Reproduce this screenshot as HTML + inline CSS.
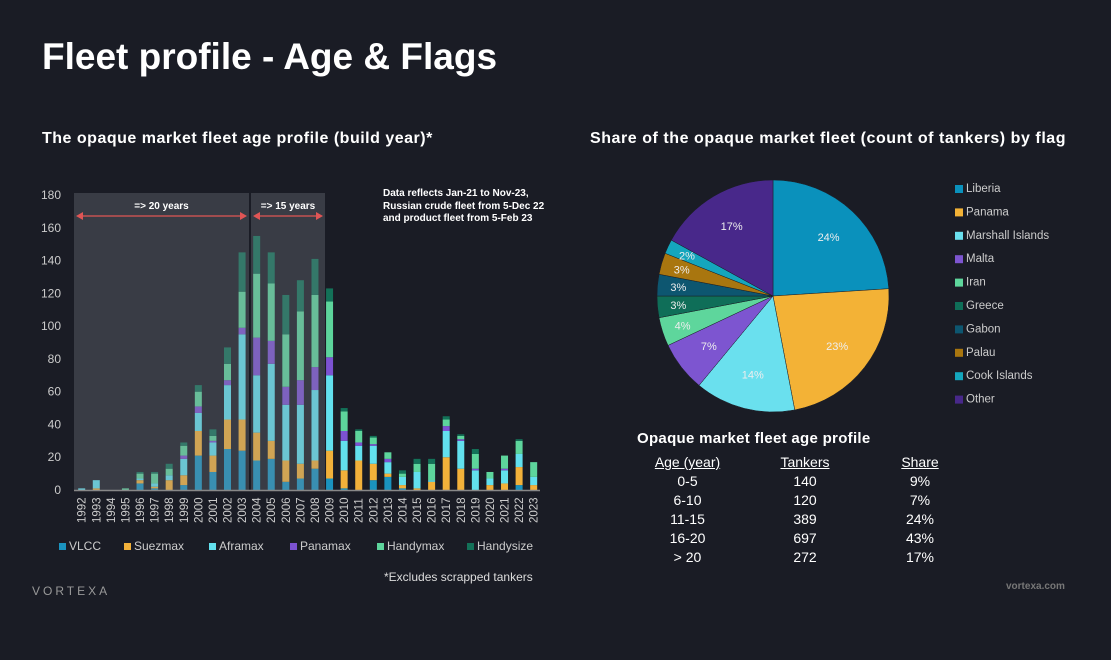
<!DOCTYPE html>
<html><head><meta charset="utf-8"><style>
body{margin:0;width:1111px;height:660px;background:#1a1c25;font-family:"Liberation Sans",sans-serif;color:#fff;overflow:hidden;position:relative}
.abs{position:absolute}
td,th{padding:0;height:19px;line-height:19px}
</style></head><body>
<div class="abs" style="left:42px;top:36px;font-size:37px;font-weight:bold;letter-spacing:0px">Fleet profile - Age &amp; Flags</div>
<div class="abs" style="left:42px;top:130px;font-size:16px;font-weight:bold;letter-spacing:0.5px">The opaque market fleet age profile (build year)*</div>
<div class="abs" style="left:590px;top:130px;font-size:16px;font-weight:bold;letter-spacing:0.55px">Share of the opaque market fleet (count of tankers) by flag</div>
<div class="abs" style="left:383px;top:188px;font-size:10px;font-weight:bold;line-height:12.5px">Data reflects Jan-21 to Nov-23,<br>Russian crude fleet from 5-Dec 22<br>and product fleet from 5-Feb 23</div>
<svg class="abs" style="left:0;top:0" width="1111" height="660" id="svg"></svg>
<div class="abs" style="left:384px;top:570px;font-size:12px;color:#ddd">*Excludes scrapped tankers</div>
<div class="abs" style="left:32px;top:584px;font-size:12px;color:#999;letter-spacing:3px">VORTEXA</div>
<div class="abs" style="left:1006px;top:581px;font-size:10px;color:#777;font-weight:bold">vortexa.com</div>
<div class="abs" style="left:637px;top:430px;font-size:15px;font-weight:bold;letter-spacing:0.3px">Opaque market fleet age profile</div>
<table class="abs" style="left:640px;top:453px;border-collapse:collapse;font-size:14px;color:#fff">
<tr><th style="width:95px;text-decoration:underline;font-weight:normal">Age (year)</th><th style="width:140px;text-decoration:underline;font-weight:normal">Tankers</th><th style="width:90px;text-decoration:underline;font-weight:normal">Share</th></tr>
<tr style="text-align:center"><td>0-5</td><td>140</td><td>9%</td></tr>
<tr style="text-align:center"><td>6-10</td><td>120</td><td>7%</td></tr>
<tr style="text-align:center"><td>11-15</td><td>389</td><td>24%</td></tr>
<tr style="text-align:center"><td>16-20</td><td>697</td><td>43%</td></tr>
<tr style="text-align:center"><td>&gt; 20</td><td>272</td><td>17%</td></tr>
</table>
<script>
const years=[1992,1993,1994,1995,1996,1997,1998,1999,2000,2001,2002,2003,2004,2005,2006,2007,2008,2009,2010,2011,2012,2013,2014,2015,2016,2017,2018,2019,2020,2021,2022,2023];
const seriesNames=["VLCC","Suezmax","Aframax","Panamax","Handymax","Handysize"];
const vlcc=[0,0,0,0,4,1,0,3,21,11,25,24,18,19,5,7,13,7,1,0,6,8,1,0,0,0,0,0,0,0,3,0];
const suezmax=[0,1,0,0,2,1,6,6,15,10,18,19,17,11,13,9,5,17,11,18,10,2,2,1,5,20,13,0,3,4,11,3];
const aframax=[1,5,0,0,1,2,3,10,11,8,21,52,35,47,34,36,43,46,18,9,11,7,5,10,1,16,17,12,4,8,8,5];
const panamax=[0,0,0,0,0,0,0,2,4,1,3,4,23,14,11,15,14,11,6,2,1,2,0,0,0,3,1,1,0,1,0,0];
const handymax=[0,0,0,1,3,6,4,6,9,3,10,22,39,35,32,42,44,34,12,7,4,4,2,5,10,4,2,9,4,8,8,9];
const handysize=[0,0,0,0,1,1,3,2,4,4,10,24,23,19,24,19,22,8,2,1,1,0,2,3,3,2,1,3,0,0,1,0];
const yTicks=[0,20,40,60,80,100,120,140,160,180];
const flags=["Liberia","Panama","Marshall Islands","Malta","Iran","Greece","Gabon","Palau","Cook Islands","Other"];
const shares=[24,23,14,7,4,3,3,3,2,17];

const NS="http://www.w3.org/2000/svg",svg=document.getElementById('svg');
function mk(t,a,p){const e=document.createElementNS(NS,t);for(const k in a)e.setAttribute(k,a[k]);(p||svg).appendChild(e);return e;}
const cols=["#1a93bf","#f2b13a","#62e0ee","#7c52d2","#5dd59c","#137158"];
const y0=490,yk=295/180;
const y=v=>y0-v*yk;
const x=i=>81.7+i*14.58;
yTicks.forEach(t=>{const e=mk('text',{x:61,y:y(t)+4,'text-anchor':'end','font-size':12,fill:'#ccc'});e.textContent=t;

});
const data=[vlcc,suezmax,aframax,panamax,handymax,handysize];
years.forEach((yr,i)=>{let acc=0;data.forEach((s,k)=>{const v=s[i];if(v>0){const r=mk('rect',{x:x(i)-3.5,y:y(acc+v),width:7,height:v*yk,fill:cols[k]});

}acc+=v;});
const t=mk('text',{transform:`translate(${x(i)+4},${523}) rotate(-90)`,'font-size':11.5,fill:'#ccc'});t.textContent=yr;

});
const s1=mk('rect',{x:74,y:193,width:175,height:297,fill:'rgba(130,135,145,0.3)'});


const s2=mk('rect',{x:251,y:193,width:74,height:297,fill:'rgba(130,135,145,0.3)'});


mk('line',{x1:74,x2:540,y1:490.5,y2:490.5,stroke:'#888','stroke-width':1.5});
function arrow(x1,x2,label,name){const g=mk('g',{});
mk('line',{x1:x1+5,x2:x2-5,y1:216,y2:216,stroke:'#e05555','stroke-width':1.2},g);
mk('polygon',{points:`${x1},216 ${x1+7},212 ${x1+7},220`,fill:'#e05555'},g);
mk('polygon',{points:`${x2},216 ${x2-7},212 ${x2-7},220`,fill:'#e05555'},g);
const t=mk('text',{x:(x1+x2)/2,y:209,'text-anchor':'middle','font-size':10,'font-weight':'bold',fill:'#fff'},g);t.textContent=label;}
arrow(76,247,'=> 20 years','arrow-20-years');arrow(253,323,'=> 15 years','arrow-15-years');
const lx=[59,124,209,290,377,467];
seriesNames.forEach((n,k)=>{const g=mk('g',{});
mk('rect',{x:lx[k],y:543,width:7,height:7,fill:cols[k]},g);const t=mk('text',{x:lx[k]+10,y:550,'font-size':12,fill:'#ccc'},g);t.textContent=n;});
const pc=["#0a91bc","#f3b236","#6ae0ee","#7d55d0","#5ed69c","#0f6e58","#0d5670","#a9760f","#14a6bd","#48288a"];
const cx=773,cy=296,R=116;let a=-Math.PI/2;const tot=shares.reduce((p,c)=>p+c,0);
shares.forEach((s,i)=>{const da=s/tot*2*Math.PI,a2=a+da;
const p=mk('path',{d:`M${cx},${cy}L${cx+R*Math.cos(a)},${cy+R*Math.sin(a)}A${R},${R} 0 ${da>Math.PI?1:0} 1 ${cx+R*Math.cos(a2)},${cy+R*Math.sin(a2)}Z`,fill:pc[i],stroke:'#1a1c25','stroke-width':0.5});


const m=(a+a2)/2,rr=s<5?R*0.82:R*0.7;const t=mk('text',{x:cx+rr*Math.cos(m),y:cy+rr*Math.sin(m)+4,'text-anchor':'middle','font-size':11,fill:'#eee'});t.textContent=s+'%';


a=a2;
const g=mk('g',{});
mk('rect',{x:955,y:185+i*23.4,width:8,height:8,fill:pc[i]},g);const lt=mk('text',{x:966,y:192+i*23.4,'font-size':11.5,fill:'#ccc'},g);lt.textContent=flags[i];});
</script>
</body></html>
